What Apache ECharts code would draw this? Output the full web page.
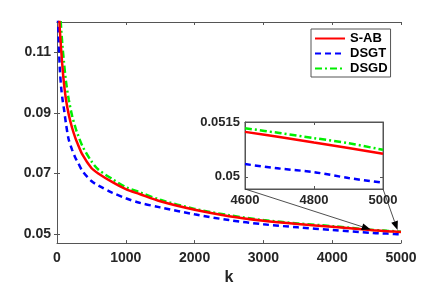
<!DOCTYPE html>
<html><head><meta charset="utf-8">
<script src="https://cdn.jsdelivr.net/npm/echarts@6/dist/echarts.min.js"></script>
<style>html,body{margin:0;padding:0;background:#fff}#c{width:443px;height:291px}</style>
</head><body><div id="c"></div>
<script>
const kSteps = [0, 10, 20, 40, 60, 80, 100, 130, 170, 220, 270, 300, 370, 500, 600, 800, 1000, 1200, 1500, 2000, 2500, 3000, 3500, 4000, 4600, 4700, 4800, 4900, 5000];
const sab  = [0.145, 0.136, 0.128, 0.118, 0.111, 0.105, 0.100, 0.0945, 0.0895, 0.0850, 0.0815, 0.0798, 0.0762, 0.0718, 0.0700, 0.0672, 0.0648, 0.0632, 0.0608, 0.0580, 0.0559, 0.0544, 0.0533, 0.0524, 0.05123, 0.05109, 0.05094, 0.05079, 0.05063];
const dsgt = [0.135, 0.124, 0.117, 0.105, 0.0985, 0.0945, 0.0915, 0.0865, 0.0812, 0.0778, 0.0750, 0.0738, 0.0708, 0.0675, 0.0660, 0.0637, 0.0618, 0.0603, 0.0588, 0.0565, 0.0546, 0.0532, 0.0522, 0.0513, 0.05035, 0.05023, 0.05013, 0.04997, 0.04984];
const dsgd = [0.155, 0.146, 0.138, 0.126, 0.118, 0.112, 0.107, 0.1005, 0.0945, 0.0890, 0.0850, 0.0830, 0.0790, 0.0740, 0.0713, 0.0682, 0.0655, 0.0638, 0.0613, 0.0583, 0.0562, 0.0546, 0.0535, 0.0526, 0.05133, 0.05120, 0.05106, 0.05092, 0.05074];
const seriesNames = ['S-AB', 'DSGT', 'DSGD'];
const mainYTicks = [0.05, 0.07, 0.09, 0.11];
const insetYTicks = [0.05, 0.0515];
const insetStart = 4600;
const arrowTargets = [[4560, 0.0515], [4950, 0.0513]];

const FONT = "'Liberation Sans', Arial, Helvetica, sans-serif";
const AX = '#555';
const LBL = '#262626';
const pairs = vals => kSteps.map((k, i) => [k, vals[i]]);
const insetPairs = vals => kSteps.map((k, i) => [k, vals[i]]).filter(p => p[0] >= insetStart);
const plain = v => String(v);

const styles = [
  {color: '#ff0000', type: 'solid'},
  {color: '#0000ff', type: [6, 4]},
  {color: '#00ee00', type: [7, 3, 2, 3]}
];
const data = [sab, dsgt, dsgd];

function baseAxis(extra) {
  return Object.assign({
    type: 'value',
    axisLine: {show: true, lineStyle: {color: AX, width: 1}},
    axisTick: {show: true, inside: true, length: 3, lineStyle: {color: AX}},
    splitLine: {show: false},
    axisLabel: {show: true, color: LBL, fontFamily: FONT, fontWeight: 'bold', fontSize: 14, formatter: plain}
  }, extra);
}

const chart = echarts.init(document.getElementById('c'), null, {renderer: 'canvas'});
const mainSeries = data.map((d, i) => ({
  name: seriesNames[i], type: 'line', xAxisIndex: 0, yAxisIndex: 0,
  data: pairs(d), showSymbol: false, symbol: 'none', smooth: 0.3, clip: true,
  lineStyle: {color: styles[i].color, type: styles[i].type, width: 2.5},
  itemStyle: {color: styles[i].color}, z: i === 0 ? 4 : 3, animation: false
}));
const insetSeries = data.map((d, i) => ({
  name: seriesNames[i], type: 'line', xAxisIndex: 2, yAxisIndex: 2,
  data: insetPairs(d), showSymbol: false, symbol: 'none', smooth: 0.3, clip: true,
  lineStyle: {color: styles[i].color, type: styles[i].type, width: 2.5},
  itemStyle: {color: styles[i].color}, z: 5, animation: false
}));

chart.setOption({
  animation: false,
  backgroundColor: '#fff',
  grid: [
    {left: 57, top: 22, right: 42, bottom: 42, show: false},
    {left: 245, top: 122, width: 138, height: 67, show: true, backgroundColor: '#fff', borderColor: AX, borderWidth: 1, z: 4}
  ],
  xAxis: [
    baseAxis({gridIndex: 0, min: 0, max: 5000, interval: 1000, position: 'bottom',
      name: 'k', nameLocation: 'middle', nameGap: 24,
      nameTextStyle: {color: LBL, fontFamily: FONT, fontWeight: 'bold', fontSize: 16},
      axisLabel: {color: LBL, fontFamily: FONT, fontWeight: 'bold', fontSize: 14, margin: 8, formatter: plain}}),
    baseAxis({gridIndex: 0, min: 0, max: 5000, interval: 1000, position: 'top', axisLabel: {show: false}}),
    baseAxis({gridIndex: 1, min: 4600, max: 5000, interval: 200, position: 'bottom', z: 5,
      axisLabel: {color: LBL, fontFamily: FONT, fontWeight: 'bold', fontSize: 13, margin: 5, formatter: plain}}),
    baseAxis({gridIndex: 1, min: 4600, max: 5000, interval: 200, position: 'top', z: 5, axisLabel: {show: false}})
  ],
  yAxis: [
    baseAxis({gridIndex: 0, min: 0.047, max: 0.12, position: 'left',
      axisTick: {show: true, inside: true, length: 3, lineStyle: {color: AX}, customValues: mainYTicks},
      axisLabel: {color: LBL, fontFamily: FONT, fontWeight: 'bold', fontSize: 14, margin: 6, customValues: mainYTicks, formatter: plain}}),
    baseAxis({gridIndex: 0, min: 0.047, max: 0.12, position: 'right',
      axisTick: {show: true, inside: true, length: 3, lineStyle: {color: AX}, customValues: mainYTicks},
      axisLabel: {show: false}}),
    baseAxis({gridIndex: 1, min: 0.04967, max: 0.0515, position: 'left', z: 5,
      axisTick: {show: true, inside: true, length: 3, lineStyle: {color: AX}, customValues: insetYTicks},
      axisLabel: {color: LBL, fontFamily: FONT, fontWeight: 'bold', fontSize: 13, margin: 5, customValues: insetYTicks, formatter: plain}}),
    baseAxis({gridIndex: 1, min: 0.04967, max: 0.0515, position: 'right', z: 5,
      axisTick: {show: true, inside: true, length: 3, lineStyle: {color: AX}, customValues: insetYTicks},
      axisLabel: {show: false}})
  ],
  legend: {
    data: seriesNames, orient: 'vertical', left: 311, top: 29,
    itemWidth: 30, itemHeight: 14, itemGap: 2, padding: [3, 3, 2, 3],
    borderColor: AX, borderWidth: 1, backgroundColor: '#fff', borderRadius: 0,
    selectedMode: false, z: 10,
    itemStyle: {opacity: 0, borderWidth: 0},
    textStyle: {color: '#000', fontFamily: FONT, fontWeight: 'bold', fontSize: 13}
  },
  series: mainSeries.concat(insetSeries)
});

// Connector arrows from inset corners to the zoomed region of the main plot
const ymin = 0.04967;
const starts = [
  chart.convertToPixel({gridIndex: 1}, [4600, ymin]),
  chart.convertToPixel({gridIndex: 1}, [5000, ymin])
];
const ends = arrowTargets.map(t => chart.convertToPixel({gridIndex: 0}, t));
const graphics = [];
starts.forEach((s, i) => {
  const e = ends[i];
  const ang = Math.atan2(e[1] - s[1], e[0] - s[0]);
  const L = 9, W = 3.5;
  const bx = e[0] - L * Math.cos(ang), by = e[1] - L * Math.sin(ang);
  const nx = -Math.sin(ang), ny = Math.cos(ang);
  graphics.push({type: 'line', shape: {x1: s[0], y1: s[1], x2: bx, y2: by}, style: {stroke: '#222', lineWidth: 0.8}, z: 20});
  graphics.push({type: 'polygon', shape: {points: [[e[0], e[1]], [bx + nx * W, by + ny * W], [bx - nx * W, by - ny * W]]}, style: {fill: '#000'}, z: 20});
});
chart.setOption({graphic: graphics});
</script></body></html>
